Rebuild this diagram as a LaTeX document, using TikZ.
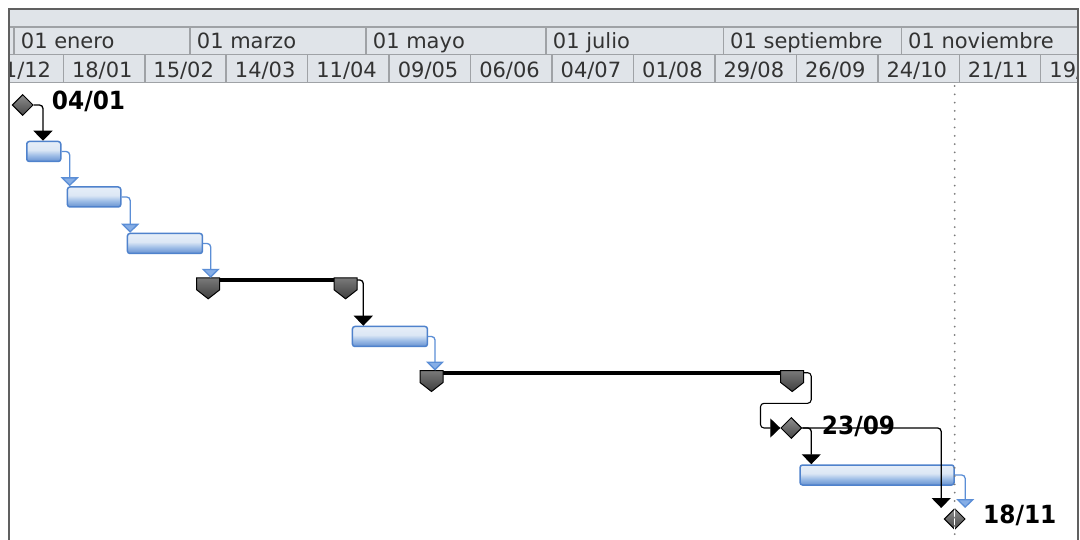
\documentclass[tikz,border=0pt]{standalone}
\usepackage{fontspec}
\setmainfont{DejaVu Sans}
\newfontfamily\lblfont[FakeStretch=0.93]{DejaVu Sans}
\usetikzlibrary{shapes.geometric,arrows.meta,calc}
\definecolor{hdr}{HTML}{E0E4E9}
\definecolor{hdrline}{HTML}{9FA2A6}
\definecolor{hdrtext}{HTML}{333333}
\definecolor{framec}{HTML}{606060}
\definecolor{barTop}{HTML}{DCE7F5}
\definecolor{barTopB}{HTML}{E6EEF8}
\definecolor{barMid}{HTML}{9CBCE6}
\definecolor{barBot}{HTML}{6E97D3}
\definecolor{barEdge}{HTML}{4F82CC}
\definecolor{link}{HTML}{5B8ED6}
\definecolor{linkfill}{HTML}{86AEE6}
\definecolor{msTop}{HTML}{8E8E8E}
\definecolor{msBot}{HTML}{474747}
\definecolor{capTop}{HTML}{7A7A7A}
\definecolor{capBot}{HTML}{3E3E3E}
\definecolor{dotc}{HTML}{7A7A7A}
\pgfdeclareverticalshading{barshade}{100bp}{color(0bp)=(barBot); color(27bp)=(barBot); color(40bp)=(barMid); color(54bp)=(barTop); color(75bp)=(barTopB); color(100bp)=(barTopB)}
\newcommand\capshape[2]{\draw[capst,shift={(#1)}] (#2,0) -- ++(23,0) -- ++(0,12) -- ++(-11.5,9) -- ++(-11.5,-9) -- cycle;}
\tikzset{
  tbar/.style={draw=barEdge,line width=1.5pt,rounded corners=2.5pt,shade,shading=barshade,minimum height=20pt,inner sep=0pt,anchor=west},
  mstone/.style={diamond,draw=black,line width=1pt,minimum width=21pt,minimum height=21pt,inner sep=0pt,top color=msTop,bottom color=msBot},
  sumline/.style={fill=black,minimum height=4pt,inner sep=0pt,anchor=west},
  capst/.style={draw=black,line width=1pt,top color=capTop,bottom color=capBot},
  bcon/.style={draw=black,line width=1.3pt,rounded corners=3.5pt,-{Triangle[width=19pt,length=10pt]}},
  blink/.style={draw=link,line width=1.3pt,rounded corners=3.5pt,-{Triangle[width=18pt,length=9pt,fill=linkfill]}},
  lbl/.style={font=\lblfont\bfseries\fontsize{25}{28}\selectfont,inner sep=0pt,anchor=base west},
  hdrtxt/.style={font=\fontsize{21}{24}\selectfont,text=hdrtext,inner sep=0pt,anchor=base west},
  hline/.style={draw=hdrline,line width=1.5pt},
  frameline/.style={draw=framec,line width=1.5pt},
  dotline/.style={draw=dotc,line width=2pt,line cap=round,dash pattern=on 0pt off 8.3pt}
}
\begin{document}
\begin{tikzpicture}[x=1pt,y=-1pt]
\useasboundingbox (0,0) rectangle (1080,540);
\fill[white] (0,0) rectangle (1080,540);
% header
\fill[hdr] (9,9) rectangle (1078,82.3);
\begin{scope}
\clip (9,9) rectangle (1078,540);
\foreach \t [count=\i from -1] in {21/12,18/01,15/02,14/03,11/04,09/05,06/06,04/07,01/08,29/08,26/09,24/10,21/11,19/12}
  \node[hdrtxt] (w\i) at ({63.3+81.45*\i+8.5},77.3) {\t};
\foreach \x/\t [count=\i] in {20.7/01 enero,196.7/01 marzo,372.7/01 mayo,552.7/01 julio,730/01 septiembre,908/01 noviembre}
  \node[hdrtxt] (mo\i) at (\x,48.3) {\t};
\end{scope}
\draw[hline] (9,27) -- (1078,27);
\draw[hline] (9,54.5) -- (1078,54.5);
\draw[hline] (9,82.3) -- (1078,82.3);
\foreach \x in {14,190,366,546,723.5,901.5}
  \draw[hline] (\x,27) -- (\x,54.5);
\foreach \k in {0,...,12}
  \draw[hline] ({63.3+81.45*\k},54.5) -- ++(0,27.8);
\draw[frameline] (9,540) -- (9,9) -- (1078,9) -- (1078,540);
% milestones
\node[mstone] (m1) at (22.7,105) {};
\node[mstone] (m2) at (791.3,428) {};
\node[mstone] (m3) at (954.7,519) {};
% tasks
\node[tbar,minimum width=34pt] (t1) at (26,151.5) {};
\node[tbar,minimum width=53.3pt] (t2) at (66.7,197) {};
\node[tbar,minimum width=75pt] (t3) at (126.7,243.5) {};
\node[tbar,minimum width=75pt] (t4) at (351.7,336.5) {};
\node[tbar,minimum width=154pt] (t5) at (799.3,475) {};
% summaries
\node[sumline,minimum width=160pt] (s1) at (196.7,280) {};
\node[sumline,minimum width=383.3pt] (s2) at (420,372.7) {};
\capshape{s1.north west}{0}
\capshape{s1.north east}{-23}
\capshape{s2.north west}{0}
\capshape{s2.north east}{-23}
% links
\draw[bcon] (m1.east) -| ([xshift=17pt]t1.north west);
\draw[blink] (t1.east) -| ([xshift=3pt]t2.north west);
\draw[blink] (t2.east) -| ([xshift=3.5pt]t3.north west);
\draw[blink] (t3.east) -| ([xshift=14pt]s1.north west);
\draw[bcon] (s1.east) -| ([xshift=11.6pt]t4.north west);
\draw[blink] (t4.east) -| ([xshift=15pt]s2.north west);
\draw[bcon,line width=1.1pt] (s2.east) -- ++(7.5,0) -- ++(0,30.6) -- ++(-50.7,0) |- (m2.west);
\draw[bcon] (m2.east) -| ([xshift=12pt]t5.north west);
\draw[bcon] (m2.east) -| ([xshift=-13.5pt]m3.north);
\draw[blink] (t5.east) -| ([xshift=10.5pt]m3.north);
% labels
\node[lbl] (l1) at (51.7,110) {04/01};
\node[lbl] (l2) at (821.7,434) {23/09};
\node[lbl] (l3) at (983,523) {18/11};
% status line
\draw[white,line width=1.5pt] (m3.north) -- (m3.south);
\draw[dotline] (954.7,86) -- (954.7,540);
\end{tikzpicture}
\end{document}
